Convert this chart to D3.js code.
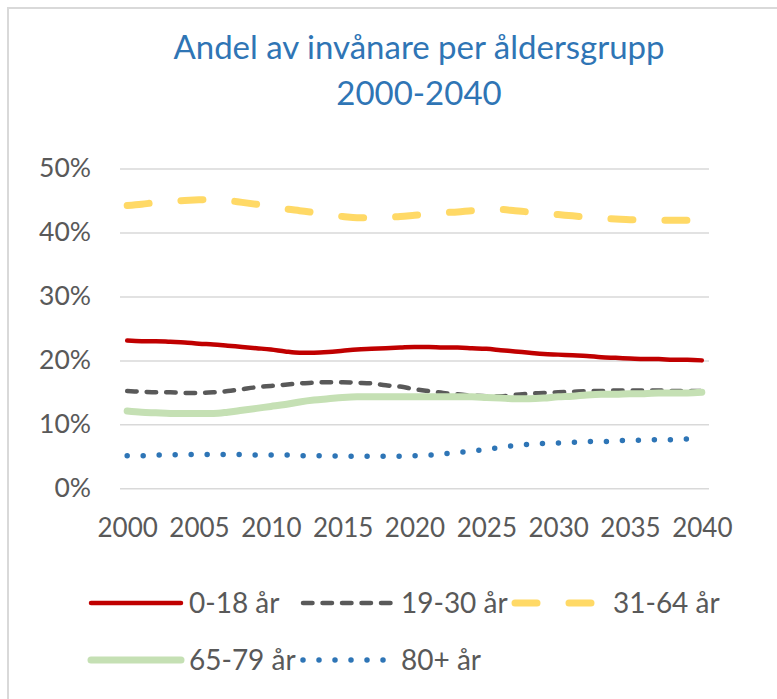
<!DOCTYPE html>
<html>
<head>
<meta charset="utf-8">
<script src="https://cdn.jsdelivr.net/npm/d3@7"></script>
<style>
    body { margin: 0; background: #fff; }
    svg { display: block; }
    text { font-family: Lato, "Open Sans", sans-serif; }
</style>
</head>
<body>
<div id="chart"></div>
<script>
// categories (one per year) and the labelled ticks
var vYears = ["2000", "2001", "2002", "2003", "2004", "2005", "2006", "2007", "2008", "2009",
    "2010", "2011", "2012", "2013", "2014", "2015", "2016", "2017", "2018", "2019",
    "2020", "2021", "2022", "2023", "2024", "2025", "2026", "2027", "2028", "2029",
    "2030", "2031", "2032", "2033", "2034", "2035", "2036", "2037", "2038", "2039", "2040"];
var vTickYears = ["2000", "2005", "2010", "2015", "2020", "2025", "2030", "2035", "2040"];
var vTickPercents = [0, 0.1, 0.2, 0.3, 0.4, 0.5];

var vSeriesNames = ["0-18 år", "19-30 år", "31-64 år", "65-79 år", "80+ år"];

// share of inhabitants, percent
var vAge0to18 = [23.1, 23.0, 23.0, 22.9, 22.8, 22.6, 22.5, 22.3, 22.1, 21.9,
    21.7, 21.4, 21.2, 21.2, 21.3, 21.5, 21.7, 21.8, 21.9, 22.0,
    22.1, 22.1, 22.0, 22.0, 21.9, 21.8, 21.6, 21.4, 21.2, 21.0,
    20.9, 20.8, 20.7, 20.5, 20.4, 20.3, 20.2, 20.2, 20.1, 20.1, 20.0];
var vAge19to30 = [15.2, 15.1, 15.0, 15.0, 14.9, 14.9, 15.0, 15.2, 15.5, 15.8,
    16.0, 16.2, 16.4, 16.5, 16.6, 16.6, 16.5, 16.4, 16.1, 15.9,
    15.5, 15.2, 14.9, 14.7, 14.5, 14.4, 14.4, 14.6, 14.8, 14.9,
    15.0, 15.1, 15.2, 15.2, 15.3, 15.3, 15.3, 15.3, 15.2, 15.2, 15.2];
var vAge31to64 = [44.2, 44.4, 44.7, 44.9, 45.0, 45.1, 45.2, 45.0, 44.7, 44.4,
    44.1, 43.7, 43.4, 43.1, 42.7, 42.5, 42.3, 42.3, 42.4, 42.5,
    42.7, 42.9, 43.1, 43.2, 43.4, 43.5, 43.6, 43.4, 43.2, 43.0,
    42.8, 42.6, 42.4, 42.2, 42.1, 42.0, 42.0, 41.9, 41.9, 41.9, 41.9];
var vAge65to79 = [12.1, 11.9, 11.8, 11.7, 11.7, 11.7, 11.7, 11.9, 12.2, 12.5,
    12.8, 13.1, 13.5, 13.8, 14.0, 14.2, 14.3, 14.3, 14.3, 14.3,
    14.3, 14.3, 14.3, 14.3, 14.3, 14.2, 14.1, 14.0, 14.0, 14.1,
    14.3, 14.4, 14.6, 14.7, 14.7, 14.8, 14.8, 14.9, 14.9, 14.9, 15.0];
var vAge80plus = [5.1, 5.1, 5.2, 5.2, 5.3, 5.3, 5.3, 5.3, 5.3, 5.2,
    5.2, 5.2, 5.1, 5.1, 5.1, 5.0, 5.0, 5.0, 5.0, 5.0,
    5.1, 5.2, 5.4, 5.6, 5.8, 6.1, 6.4, 6.7, 6.9, 7.0,
    7.1, 7.2, 7.3, 7.3, 7.4, 7.5, 7.5, 7.6, 7.6, 7.7, 7.7];

// line styles per series
var vStyles = [
    { color: "#C00000", width: 4.5, dash: null },
    { color: "#595959", width: 4.5, dash: "9.5,10" },
    { color: "#FFD966", width: 7, dash: "22,32" },
    { color: "#C5E0B4", width: 7, dash: null },
    { color: "#2E75B6", width: 5.5, dash: "0,16" }
];

var vSeries = [vAge0to18, vAge19to30, vAge31to64, vAge65to79, vAge80plus].map(function (aValues, aIdx) {
    return {
        name: vSeriesNames[aIdx],
        style: vStyles[aIdx],
        values: aValues.map(function (aVal, aI) { return { year: vYears[aI], value: aVal / 100 }; })
    };
});

var vWidth = 777, vHeight = 699;
var vPlot = { left: 120, right: 709, top: 168.5, bottom: 488.3 };

var svg = d3.select("#chart")
    .append("svg")
    .attr("width", vWidth)
    .attr("height", vHeight);

// chart frame, runs off the picture on the right and bottom
svg.append("rect")
    .attr("x", 8).attr("y", 8)
    .attr("width", 820).attr("height", 740)
    .attr("fill", "#fff")
    .attr("stroke", "#D9D9D9")
    .attr("stroke-width", 2);

// title
var vTitle = svg.append("text")
    .attr("text-anchor", "middle")
    .attr("fill", "#2F75B5")
    .style("font-size", "33px");
vTitle.append("tspan").attr("x", 419).attr("y", 59).text("Andel av invånare per åldersgrupp");
vTitle.append("tspan").attr("x", 419).attr("y", 105).text("2000-2040");

// scales
var vX = d3.scalePoint()
    .domain(vYears)
    .range([vPlot.left, vPlot.right])
    .padding(0.5);
var vY = d3.scaleLinear()
    .domain([0, 0.5])
    .range([vPlot.bottom, vPlot.top]);

// y axis with grid lines
var vYAxis = svg.append("g")
    .attr("transform", "translate(" + vPlot.left + ",0)")
    .call(d3.axisLeft(vY)
        .tickValues(vTickPercents)
        .tickFormat(d3.format(".0%"))
        .tickSize(-(vPlot.right - vPlot.left))
        .tickPadding(29));
vYAxis.select(".domain").remove();
vYAxis.selectAll(".tick line").attr("stroke", "#D9D9D9").attr("stroke-width", 1.5);
vYAxis.selectAll(".tick text")
    .attr("fill", "#595959")
    .style("font-size", "26.5px")
    .style("font-family", "Lato, sans-serif");

// x axis
var vXAxis = svg.append("g")
    .attr("transform", "translate(0," + vPlot.bottom + ")")
    .call(d3.axisBottom(vX)
        .tickValues(vTickYears)
        .tickSize(0)
        .tickPadding(30));
vXAxis.select(".domain").remove();
vXAxis.selectAll(".tick text")
    .attr("fill", "#595959")
    .style("font-size", "26px")
    .style("font-family", "Lato, sans-serif");

// lines
var vLine = d3.line()
    .x(function (aD) { return vX(aD.year); })
    .y(function (aD) { return vY(aD.value); })
    .curve(d3.curveMonotoneX);

svg.selectAll(".series")
    .data(vSeries)
    .enter()
    .append("path")
    .attr("class", "series")
    .attr("d", function (aS) { return vLine(aS.values); })
    .attr("fill", "none")
    .attr("stroke", function (aS) { return aS.style.color; })
    .attr("stroke-width", function (aS) { return aS.style.width; })
    .attr("stroke-dasharray", function (aS) { return aS.style.dash; })
    .attr("stroke-linecap", "round")
    .attr("stroke-linejoin", "round");

// legend
var vLegend = svg.selectAll(".legend")
    .data(vSeries)
    .enter()
    .append("g")
    .attr("class", "legend")
    .attr("transform", function (aS, aIdx) {
        return "translate(" + (91 + (aIdx % 3) * 212) + "," + (603 + Math.floor(aIdx / 3) * 57) + ")";
    });
vLegend.append("line")
    .attr("x1", 0).attr("x2", 90)
    .attr("y1", 0).attr("y2", 0)
    .attr("stroke", function (aS) { return aS.style.color; })
    .attr("stroke-width", function (aS) { return aS.style.width; })
    .attr("stroke-dasharray", function (aS) { return aS.style.dash; })
    .attr("stroke-linecap", "round");
vLegend.append("text")
    .attr("x", 98)
    .attr("y", 0)
    .attr("dy", "0.35em")
    .attr("fill", "#595959")
    .style("font-size", "28px")
    .text(function (aS) { return aS.name; });
</script>
</body>
</html>
